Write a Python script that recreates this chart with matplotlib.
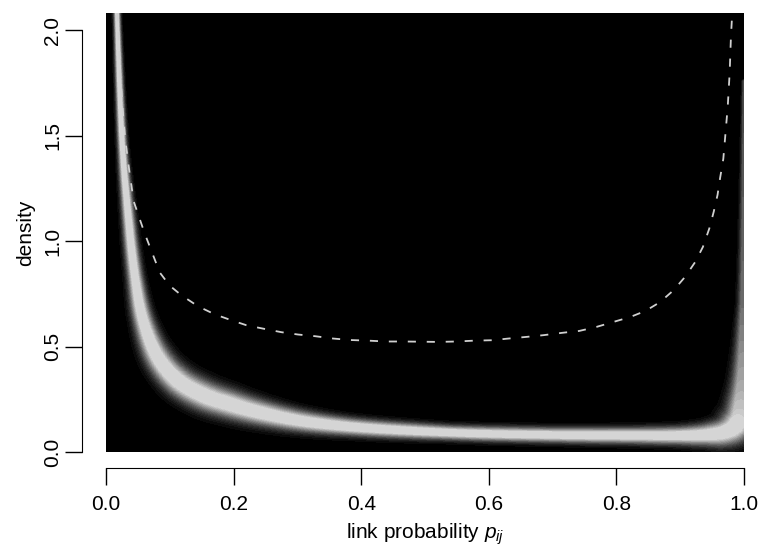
import numpy as np
import matplotlib
matplotlib.use("Agg")
import matplotlib.pyplot as plt

plt.rcParams['font.family'] = ['Liberation Sans', 'DejaVu Sans']
plt.rcParams['mathtext.fontset'] = 'custom'
plt.rcParams['mathtext.it'] = 'Liberation Sans:italic'
plt.rcParams['mathtext.rm'] = 'Liberation Sans'

# dashed reference density
dens_x = [0.018, 0.022, 0.026, 0.030, 0.0355, 0.043, 0.060, 0.084, 0.0995, 0.118,
          0.144, 0.170, 0.196, 0.220, 0.246, 0.275, 0.301, 0.328, 0.356, 0.383,
          0.411, 0.439, 0.466, 0.494, 0.521, 0.550, 0.577, 0.605, 0.631, 0.660,
          0.686, 0.715, 0.742, 0.769, 0.796, 0.822, 0.846, 0.869, 0.890, 0.908,
          0.924, 0.936, 0.946, 0.953, 0.959, 0.963, 0.968, 0.970, 0.975, 0.978,
          0.980, 0.982]
dens_y = [2.08, 1.80, 1.62, 1.48, 1.35, 1.19, 1.04, 0.852, 0.79, 0.744,
          0.692, 0.654, 0.626, 0.602, 0.586, 0.569, 0.558, 0.550, 0.539, 0.532,
          0.529, 0.525, 0.525, 0.524, 0.523, 0.525, 0.529, 0.531, 0.539, 0.547,
          0.555, 0.566, 0.575, 0.594, 0.618, 0.641, 0.670, 0.712, 0.768, 0.831,
          0.902, 0.973, 1.06, 1.14, 1.22, 1.30, 1.39, 1.46, 1.64, 1.80,
          1.97, 2.08]

# bright band: centre line, spread (pixels) and peak grey level
band_x = [0.017, 0.018, 0.022, 0.026, 0.031, 0.045, 0.058, 0.081, 0.112, 0.152,
          0.195, 0.235, 0.300, 0.382, 0.539, 0.696, 0.827, 0.900, 0.940, 0.970,
          0.988, 0.996, 0.9995, 1.000]
band_y = [2.10, 2.00, 1.67, 1.43, 1.24, 0.84, 0.626, 0.45, 0.34, 0.27,
          0.226, 0.192, 0.150, 0.120, 0.092, 0.081, 0.078, 0.078, 0.082, 0.095,
          0.13, 0.26, 0.70, 1.75]
band_w = [2.2, 2.3, 2.7, 3.1, 3.7, 5.0, 6.5, 8.5, 9.6, 9.8,
          9.3, 8.4, 7.0, 5.7, 4.7, 4.8, 5.2, 5.8, 7.0, 9.0,
          11.0, 8.5, 4.0, 1.5]
band_peak = [0.85, 0.85, 0.86, 0.86, 0.86, 0.86, 0.86, 0.86, 0.86, 0.86,
             0.86, 0.86, 0.86, 0.86, 0.86, 0.86, 0.86, 0.86, 0.86, 0.86,
             0.86, 0.72, 0.45, 0.30]

x_ticks = [0.0, 0.2, 0.4, 0.6, 0.8, 1.0]
y_ticks = [0.0, 0.5, 1.0, 1.5, 2.0]
y_top = 2.08


def smooth_line(xs, ys, extra, n=12):
    # centripetal Catmull-Rom through the read points
    P = np.column_stack([xs, ys])
    P = np.vstack([2 * P[0] - P[1], P, 2 * P[-1] - P[-2]])
    E = [np.asarray(e, float) for e in extra]
    out, outx = [], [[] for _ in E]
    for i in range(1, len(P) - 2):
        p0, p1, p2, p3 = P[i - 1], P[i], P[i + 1], P[i + 2]
        t0 = 0.0
        t1 = t0 + np.linalg.norm(p1 - p0) ** 0.5 + 1e-9
        t2 = t1 + np.linalg.norm(p2 - p1) ** 0.5 + 1e-9
        t3 = t2 + np.linalg.norm(p3 - p2) ** 0.5 + 1e-9
        for k in range(n):
            f = k / n
            t = t1 + f * (t2 - t1)
            a1 = (t1 - t) / (t1 - t0) * p0 + (t - t0) / (t1 - t0) * p1
            a2 = (t2 - t) / (t2 - t1) * p1 + (t - t1) / (t2 - t1) * p2
            a3 = (t3 - t) / (t3 - t2) * p2 + (t - t2) / (t3 - t2) * p3
            b1 = (t2 - t) / (t2 - t0) * a1 + (t - t0) / (t2 - t0) * a2
            b2 = (t3 - t) / (t3 - t1) * a2 + (t - t1) / (t3 - t1) * a3
            out.append((t2 - t) / (t2 - t1) * b1 + (t - t1) / (t2 - t1) * b2)
            for j, e in enumerate(E):
                outx[j].append(e[i - 1] + f * (e[i] - e[i - 1]))
    out.append(P[-2])
    for j, e in enumerate(E):
        outx[j].append(e[-1])
    out = np.array(out)
    return out[:, 0], out[:, 1], [np.array(o) for o in outx]


fig = plt.figure(figsize=(7.61, 5.5), dpi=100)
ax = fig.add_axes([106.2 / 761, 97.7 / 550, 637.5 / 761, 439 / 550])

# grey image, one cell per pixel
nx, ny = 638, 439
sx, sy = nx / 1.0, ny / y_top
PX, PY = np.meshgrid(np.arange(nx) + 0.5, np.arange(ny) + 0.5)
img = np.zeros((ny, nx))

cx, cy, (cw, cp) = smooth_line(np.array(band_x) * sx, np.array(band_y) * sy,
                               [band_w, band_peak])
for i in range(len(cx) - 1):
    x0, y0, x1, y1 = cx[i], cy[i], cx[i + 1], cy[i + 1]
    r = 3.2 * max(cw[i], cw[i + 1])
    i0 = max(int(min(x0, x1) - r), 0)
    i1 = min(int(max(x0, x1) + r) + 1, nx)
    j0 = max(int(min(y0, y1) - r), 0)
    j1 = min(int(max(y0, y1) + r) + 1, ny)
    if i0 >= i1 or j0 >= j1:
        continue
    px, py = PX[j0:j1, i0:i1], PY[j0:j1, i0:i1]
    dx, dy = x1 - x0, y1 - y0
    t = ((px - x0) * dx + (py - y0) * dy) / (dx * dx + dy * dy + 1e-12)
    t = np.clip(t, 0, 1)
    d = np.hypot(px - x0 - t * dx, py - y0 - t * dy)
    w = cw[i] + t * (cw[i + 1] - cw[i])
    pk = cp[i] + t * (cp[i + 1] - cp[i])
    v = pk * np.clip(1.25 * np.exp(-0.5 * (d / w) ** 2), 0, 1)
    img[j0:j1, i0:i1] = np.maximum(img[j0:j1, i0:i1], v)
img = np.floor(img * 24) / 24

ax.imshow(img, origin='lower', extent=[0, 1, 0, y_top], cmap='gray',
          vmin=0, vmax=1, aspect='auto', interpolation='nearest')
ax.plot(dens_x, dens_y, color='#d0d0d0', lw=1.3, dashes=(4.5, 6))

ax.set_xlim(0, 1)
ax.set_ylim(0, y_top)
for s in ['top', 'right']:
    ax.spines[s].set_visible(False)
ax.spines['left'].set_position(('outward', 17.5))
ax.spines['bottom'].set_position(('outward', 11.5))
ax.spines['left'].set_bounds(0, 2)
ax.spines['bottom'].set_bounds(0, 1)
ax.set_xticks(x_ticks)
ax.set_xticklabels([f'{v:.1f}' for v in x_ticks])
ax.set_yticks(y_ticks)
ax.set_yticklabels([f'{v:.1f}' for v in y_ticks], rotation=90, va='center')
ax.tick_params(axis='both', length=12, width=1, labelsize=15)
ax.tick_params(axis='x', pad=7)
ax.tick_params(axis='y', pad=2)
ax.set_xlabel('link probability $p_{ij}$', fontsize=15, labelpad=6)
ax.set_ylabel('density', fontsize=15, labelpad=6)

fig.savefig('out.png', dpi=100)
